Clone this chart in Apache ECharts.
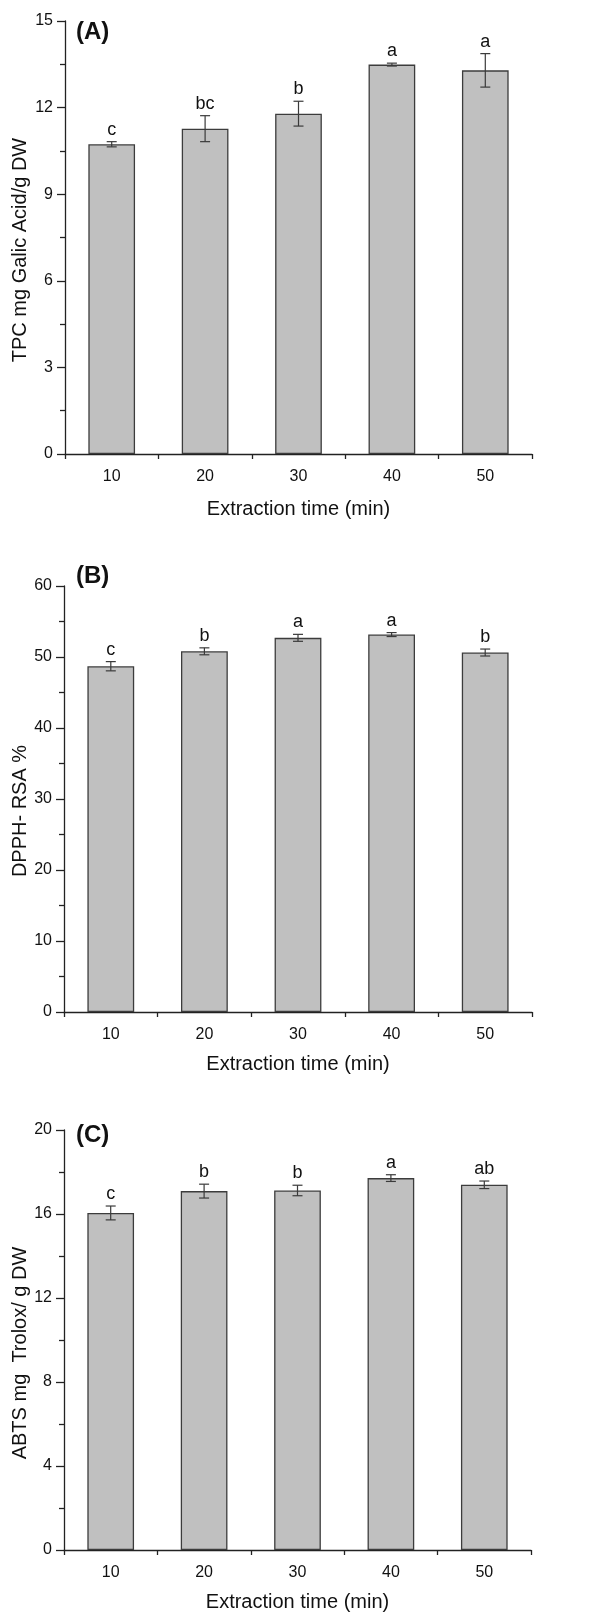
<!DOCTYPE html>
<html>
<head>
<meta charset="utf-8">
<script src="https://cdn.jsdelivr.net/npm/echarts@6/dist/echarts.min.js"></script>
<style>
html, body { margin: 0; padding: 0; background: #fff; }
#main { width: 598px; height: 1613px; }
</style>
</head>
<body>
<div id="main"></div>
<script>
var times = ['10', '20', '30', '40', '50'];

// (A) total phenolic content
var tpcMean = [10.73, 11.27, 11.79, 13.49, 13.29];
var tpcErr = [0.09, 0.45, 0.43, 0.05, 0.58];
var tpcGroup = ['c', 'bc', 'b', 'a', 'a'];

// (B) DPPH radical scavenging
var dpphMean = [48.7, 50.8, 52.7, 53.16, 50.63];
var dpphErr = [0.65, 0.49, 0.49, 0.28, 0.49];
var dpphGroup = ['c', 'b', 'a', 'a', 'b'];

// (C) ABTS
var abtsMean = [16.05, 17.09, 17.12, 17.71, 17.39];
var abtsErr = [0.33, 0.33, 0.25, 0.16, 0.18];
var abtsGroup = ['c', 'b', 'b', 'a', 'ab'];

var yMax = [15, 60, 20];
var yStep = [3, 10, 4];
var panelTags = ['(A)', '(B)', '(C)'];
var yTitles = ['TPC mg Galic Acid/g DW', 'DPPH- RSA %', 'ABTS mg  Trolox/ g DW'];
var xTitle = 'Extraction time (min)';

(function () {
    var myChart = echarts.init(document.getElementById('main'));
    var font = "'Liberation Sans', Arial, sans-serif";
    var axisColor = '#222';

    var means = [tpcMean, dpphMean, abtsMean];
    var errs = [tpcErr, dpphErr, abtsErr];
    var groups = [tpcGroup, dpphGroup, abtsGroup];

    var grids = [
        { left: 65, top: 21, right: 66, height: 433 },
        { left: 64, top: 586, right: 66, height: 426 },
        { left: 64, top: 1130, right: 67, height: 422 }
    ];
    var nameGaps = [45, 42, 42];
    var tagPos = [[76, 33], [76, 577], [76, 1136]];
    var yTitlePos = [[20, 250], [20, 811], [20, 1353]];

    function makeErrRender(letters) {
        return function (params, api) {
            var x = api.value(0), m = api.value(1), e = api.value(2);
            var top = api.coord([x, m + e]);
            var bot = api.coord([x, m - e]);
            var hw = 5;
            var st = { stroke: '#3a3a3a', lineWidth: 1.2 };
            return {
                type: 'group',
                children: [
                    { type: 'line', shape: { x1: top[0], y1: top[1], x2: bot[0], y2: bot[1] }, style: st },
                    { type: 'line', shape: { x1: top[0] - hw, y1: top[1], x2: top[0] + hw, y2: top[1] }, style: st },
                    { type: 'line', shape: { x1: bot[0] - hw, y1: bot[1], x2: bot[0] + hw, y2: bot[1] }, style: st },
                    {
                        type: 'text', x: top[0], y: top[1] - 3,
                        style: {
                            text: letters[params.dataIndex],
                            fill: '#111',
                            font: '18px ' + font,
                            textAlign: 'center',
                            textVerticalAlign: 'bottom'
                        }
                    }
                ]
            };
        };
    }

    var xAxis = [], yAxis = [], series = [], graphic = [];
    for (var i = 0; i < 3; i++) {
        xAxis.push({
            gridIndex: i,
            type: 'category',
            data: times,
            position: 'bottom',
            axisLine: { lineStyle: { color: axisColor, width: 1.3 } },
            axisTick: { alignWithLabel: true, length: 8, lineStyle: { color: axisColor, width: 1.3 } },
            axisLabel: { color: '#111', fontSize: 16, fontFamily: font, margin: 15 },
            name: xTitle,
            nameLocation: 'middle',
            nameGap: nameGaps[i],
            nameTextStyle: { color: '#111', fontSize: 20, fontFamily: font },
            splitLine: { show: false }
        });
        // minor ticks between categories
        xAxis.push({
            gridIndex: i,
            type: 'category',
            data: times,
            position: 'bottom',
            axisLine: { show: false },
            axisTick: { show: true, interval: 0, length: 5, lineStyle: { color: axisColor, width: 1.3 } },
            axisLabel: { show: false },
            splitLine: { show: false }
        });
        yAxis.push({
            gridIndex: i,
            type: 'value',
            min: 0,
            max: yMax[i],
            interval: yStep[i],
            axisLine: { show: true, lineStyle: { color: axisColor, width: 1.3 } },
            axisTick: { show: true, length: 8, lineStyle: { color: axisColor, width: 1.3 } },
            minorTick: { show: true, splitNumber: 2, length: 5, lineStyle: { color: axisColor, width: 1.3 } },
            axisLabel: { color: '#111', fontSize: 16, fontFamily: font, margin: 12 },
            splitLine: { show: false }
        });
        series.push({
            type: 'bar',
            xAxisIndex: i * 2,
            yAxisIndex: i,
            barWidth: '50%',
            data: means[i],
            itemStyle: { color: '#c0c0c0', borderColor: '#3c3c3c', borderWidth: 1.3 },
            silent: true
        });
        series.push({
            type: 'custom',
            xAxisIndex: i * 2,
            yAxisIndex: i,
            z: 5,
            renderItem: makeErrRender(groups[i]),
            data: means[i].map(function (m, k) { return [k, m, errs[i][k]]; })
        });
        graphic.push({
            type: 'text',
            left: tagPos[i][0],
            top: tagPos[i][1] - 13,
            style: { text: panelTags[i], fill: '#111', font: 'bold 24px ' + font }
        });
        graphic.push({
            type: 'text',
            x: yTitlePos[i][0],
            y: yTitlePos[i][1],
            rotation: Math.PI / 2,
            style: {
                text: yTitles[i],
                fill: '#111',
                font: '20px ' + font,
                textAlign: 'center',
                textVerticalAlign: 'middle'
            }
        });
    }

    var option = {
        animation: false,
        backgroundColor: '#fff',
        grid: grids,
        xAxis: xAxis,
        yAxis: yAxis,
        series: series,
        graphic: graphic
    };
    myChart.setOption(option);

    window.addEventListener('resize', function () {
        myChart.resize();
    });
})();
</script>
</body>
</html>
